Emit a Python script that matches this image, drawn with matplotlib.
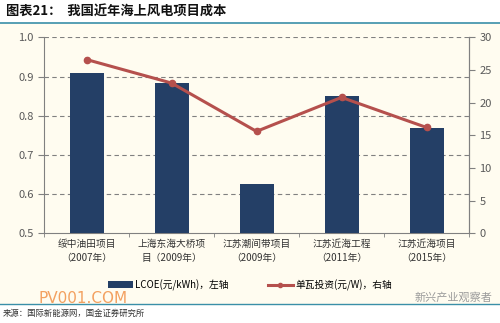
import numpy as np
import matplotlib.pyplot as plt
from matplotlib.patches import Rectangle
from matplotlib.lines import Line2D

plt.rcParams['font.family'] = ['Noto Sans CJK SC', 'DejaVu Sans']

# Data
projects = ['绥中油田项目\n（2007年）', '上海东海大桥项\n目（2009年）', '江苏潮间带项目\n（2009年）',
            '江苏近海工程\n（2011年）', '江苏近海项目\n（2015年）']
lcoe = [0.908, 0.883, 0.626, 0.850, 0.768]          # 元/kWh, left axis
invest = [26.6, 23.0, 15.6, 20.8, 16.2]             # 元/W, right axis
left_ticks = [0.5, 0.6, 0.7, 0.8, 0.9, 1.0]
right_ticks = [0, 5, 10, 15, 20, 25, 30]

bar_color = '#243F66'
line_color = '#B5504D'
grey = '#595959'
cream = '#FFFCF0'

fig = plt.figure(figsize=(5, 3.23), dpi=100, facecolor='white')

# cream panel + rules
fig.patches.append(Rectangle((0, 0.059), 1, 0.871, transform=fig.transFigure,
                             facecolor=cream, edgecolor='none', zorder=-10))
fig.add_artist(Line2D([0, 1], [0.93, 0.93], color='#3A8FA8', lw=1.2))
fig.add_artist(Line2D([0, 1], [0.059, 0.059], color='#3A8FA8', lw=1.0))

fig.text(0.012, 0.965, '图表21：  我国近年海上风电项目成本', fontsize=9.5, fontweight='bold',
         fontstyle='italic', va='center', ha='left', color='#111111')

ax = fig.add_axes([0.088, 0.2777, 0.85, 0.6068])
ax.set_facecolor(cream)
x = np.arange(len(projects))
ax.bar(x, lcoe, width=0.4, color=bar_color, zorder=3)
ax.set_ylim(0.5, 1.0)
ax.set_xlim(-0.5, len(projects) - 0.5)
ax.set_yticks(left_ticks)
ax.set_yticklabels(['%.1f' % t for t in left_ticks])
for t in left_ticks[1:]:
    ax.axhline(t, color='#808080', lw=0.8, ls=(0, (4, 3)), zorder=1)

ax.set_xticks(x)
ax.set_xticklabels(projects, fontsize=7, color='#333333', linespacing=1.5)
ax.tick_params(axis='x', length=0, pad=4)
ax.set_xticks(np.arange(-0.5, len(projects), 1), minor=True)
ax.tick_params(axis='x', which='minor', length=3, color='#808080')
ax.tick_params(axis='y', length=4, color='#808080', labelsize=8, labelcolor=grey)

ax.spines['top'].set_visible(False)
for s in ['left', 'right', 'bottom']:
    ax.spines[s].set_color('#808080')

ax2 = ax.twinx()
ax2.plot(x, invest, color=line_color, lw=2.2, marker='o', ms=4.5, zorder=4)
ax2.set_ylim(0, 30)
ax2.set_yticks(right_ticks)
ax2.tick_params(axis='y', length=4, color='#808080', labelsize=8, labelcolor=grey)
ax2.spines['top'].set_visible(False)
ax2.spines['left'].set_visible(False)
ax2.spines['bottom'].set_visible(False)
ax2.spines['right'].set_color('#808080')

handles = [Rectangle((0, 0), 1, 0.35, facecolor=bar_color),
           Line2D([0], [0], color=line_color, lw=2.2, marker='o', ms=3)]
fig.legend(handles, ['LCOE(元/kWh)，左轴', '单瓦投资(元/W)，右轴'],
           loc='center', bbox_to_anchor=(0.5, 0.118), ncol=2, frameon=False,
           fontsize=7, handlelength=2.6, handletextpad=0.2, columnspacing=4)

fig.text(0.076, 0.077, 'PV001.COM', fontsize=11, color='#F08A3C', alpha=0.8,
         ha='left', va='center', family='DejaVu Sans')
fig.text(0.985, 0.08, '新兴产业观察者', fontsize=8, color='#9A9A9A',
         ha='right', va='center')
fig.text(0.006, 0.03, '来源：国际新能源网，国金证券研究所', fontsize=6,
         color='#333333', ha='left', va='center')

fig.savefig('out.png', dpi=100, facecolor=fig.get_facecolor())
